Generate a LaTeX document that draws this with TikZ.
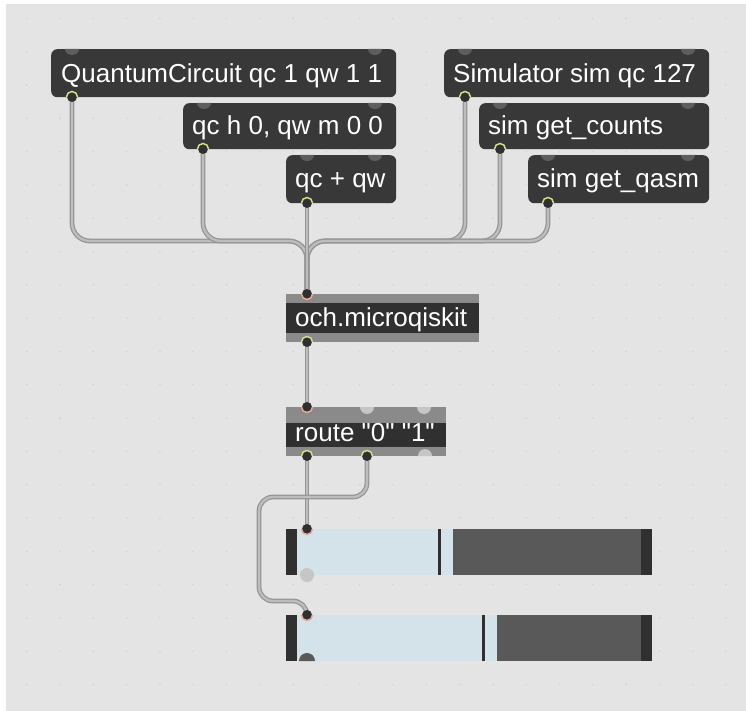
\documentclass[tikz,border=0pt]{standalone}
\usepackage{fontspec}
\setmainfont{Liberation Sans}
\newfontfamily\libfont{Liberation Sans}[Ligatures=TeXOff]
\definecolor{bgc}{HTML}{E4E4E4}
\definecolor{dotc}{HTML}{D2D2D2}
\definecolor{boxc}{HTML}{383838}
\definecolor{inletc}{HTML}{5E5E5E}
\definecolor{framec}{HTML}{8A8A8A}
\definecolor{bandc}{HTML}{303030}
\definecolor{outc}{HTML}{D4DC86}
\definecolor{inc}{HTML}{E8A898}
\definecolor{cabO}{HTML}{959595}
\definecolor{cabI}{HTML}{BDBDBD}
\definecolor{lightport}{HTML}{C6C6C6}
\definecolor{blu}{HTML}{D3E3E9}
\definecolor{slidedark}{HTML}{595959}
\definecolor{slideend}{HTML}{303030}
\tikzset{
  msgbox/.style={fill=boxc, rounded corners=6pt, draw=none, inner sep=0pt, anchor=north west},
  objbox/.style={fill=framec, draw=none, inner sep=0pt, anchor=north west},
  txt/.style={anchor=base west, inner sep=0pt, text=white, font=\libfont\fontsize{26}{26}\selectfont},
  cable/.style={preaction={draw=cabO, line width=4.8pt}, draw=cabI, line width=2.3pt, rounded corners=#1},
  cable/.default=18pt
}
\newcommand\inletbump[2]{\fill[inletc] (#1-7,#2) arc[start angle=180,end angle=0,x radius=7,y radius=6] -- cycle;}
\newcommand\outring[2]{\fill[bandc] (#1,#2) circle (5); \draw[outc, line width=1.5pt] (#1-5.5,#2) arc[start angle=180,end angle=360,radius=5.5];}
\newcommand\inring[2]{\fill[bandc] (#1,#2) circle (5); \draw[inc, line width=1.5pt] (#1-5.5,#2) arc[start angle=180,end angle=0,radius=5.5];}
\begin{document}
\begin{tikzpicture}[x=1pt,y=-1pt]
\useasboundingbox (0,0) rectangle (746,711);
\fill[white] (0,0) rectangle (746,711);
\fill[bgc] (6,4) rectangle (746,711);
\foreach \i in {0,...,21} \foreach \j in {0,...,20} \fill[dotc] (26.7+33.3*\i, 18.5+33.3*\j) circle (0.9);

% port coordinates
\coordinate (qc-out) at (72,97);
\coordinate (h-out) at (203,149);
\coordinate (add-out) at (307,203);
\coordinate (sim-out) at (465,97);
\coordinate (cnt-out) at (500,149);
\coordinate (qasm-out) at (548,203);
\coordinate (och-in) at (307,294);
\coordinate (och-out) at (307,342);
\coordinate (rt-in) at (307,407);
\coordinate (rt-out1) at (307,456);
\coordinate (rt-out2) at (367,456);
\coordinate (s1-in) at (307,529);
\coordinate (s2-in) at (307,615);

% cables
\draw[cable] (qc-out) -- (72,241) -- (307,241) -- (och-in);
\draw[cable] (h-out) -- (203,241) -- (307,241) -- (och-in);
\draw[cable] (sim-out) -- (465,241) -- (307,241) -- (och-in);
\draw[cable] (cnt-out) -- (500,241) -- (307,241) -- (och-in);
\draw[cable] (qasm-out) -- (548,241) -- (307,241) -- (och-in);
\draw[cable] (add-out) -- (och-in);
\draw[cable] (och-out) -- (rt-in);
\draw[cable] (rt-out1) -- (s1-in);
\draw[cable=14pt] (rt-out2) -- (367,497) -- (259,497) -- (259,601) -- (307,601) -- (s2-in);

% message boxes
\node[msgbox, minimum width=345pt, minimum height=48pt] (qc) at (51,49) {};
\node[txt] (qct) at (61,82.5) {QuantumCircuit qc 1 qw 1 1};
\node[msgbox, minimum width=213pt, minimum height=46pt] (h) at (183,103) {};
\node[txt] (ht) at (192,135) {qc h 0, qw m 0 0};
\node[msgbox, minimum width=110pt, minimum height=48pt] (add) at (286,155) {};
\node[txt] (addt) at (295,188) {qc + qw};
\node[msgbox, minimum width=265pt, minimum height=48pt] (sim) at (444,49) {};
\node[txt] (simt) at (453,82.5) {Simulator sim qc 127};
\node[msgbox, minimum width=230pt, minimum height=46pt] (cnt) at (479,103) {};
\node[txt] (cntt) at (488,135) {sim get\_counts};
\node[msgbox, minimum width=181pt, minimum height=48pt] (qasm) at (528,155) {};
\node[txt] (qasmt) at (537,188) {sim get\_qasm};

\inletbump{72}{49}\inletbump{375}{49}
\inletbump{204}{103}\inletbump{375}{103}
\inletbump{307}{155}\inletbump{375}{155}
\inletbump{465}{49}\inletbump{688}{49}
\inletbump{500}{103}\inletbump{688}{103}
\inletbump{548}{155}\inletbump{688}{155}
\outring{72}{97}\outring{203}{149}\outring{307}{203}
\outring{465}{97}\outring{500}{149}\outring{548}{203}

% och.microqiskit
\node[objbox, minimum width=193pt, minimum height=48pt] (och) at (286,294) {};
\fill[bandc] (286,303) rectangle (479,333);
\node[txt] (ocht) at (295,326) {och.microqiskit};
\inring{307}{294}
\outring{307}{342}

% route
\node[objbox, minimum width=160pt, minimum height=49pt] (rt) at (286,407) {};
\fill[bandc] (286,423) rectangle (446,447);
\node[txt] (rtt) at (295,441) {route "0" "1"};
\inring{307}{407}
\fill[lightport] (360,407) arc[start angle=180,end angle=0,radius=7] -- cycle;
\fill[lightport] (417,407) arc[start angle=180,end angle=0,radius=7] -- cycle;
\fill[lightport] (418,456) arc[start angle=180,end angle=360,radius=7] -- cycle;
\outring{307}{456}
\outring{367}{456}

% sliders
\node[objbox, fill=blu, minimum width=366pt, minimum height=46pt] (s1) at (286,529) {};
\fill[slideend] (286,529) rectangle (297,575);
\fill[slidedark] (453,529) rectangle (641,575);
\fill[slideend] (641,529) rectangle (652,575);
\fill[slideend] (438,529) rectangle (440.5,575);
\fill[lightport] (307,575) circle (7);
\inring{307}{529}

\node[objbox, fill=blu, minimum width=366pt, minimum height=46pt] (s2) at (286,615) {};
\fill[slideend] (286,615) rectangle (297,661);
\fill[slidedark] (497,615) rectangle (641,661);
\fill[slideend] (641,615) rectangle (652,661);
\fill[slideend] (482,615) rectangle (484.5,661);
\fill[slidedark] (299,661) arc[start angle=180,end angle=360,radius=8] -- cycle;
\inring{307}{615}
\end{tikzpicture}
\end{document}
